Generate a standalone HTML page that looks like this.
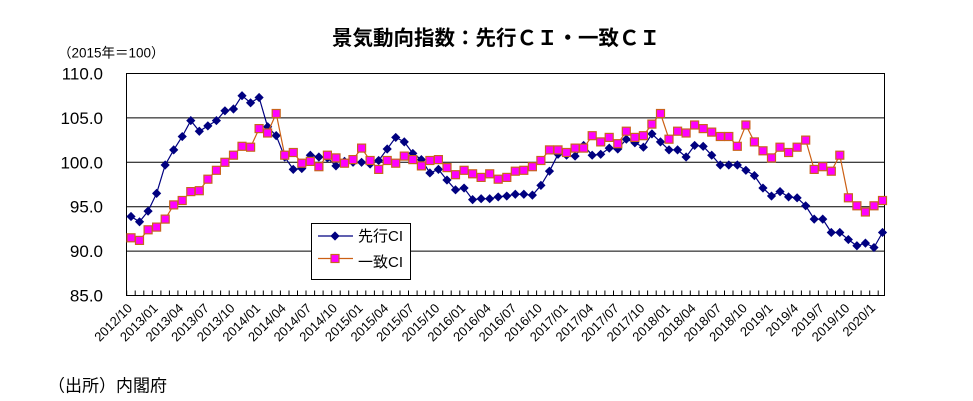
<!DOCTYPE html>
<html><head><meta charset="utf-8">
<style>
html,body{margin:0;padding:0;background:#fff;}
svg{display:block;}
text{font-family:"Liberation Sans","Noto Sans CJK JP",sans-serif;fill:#000;}
</style></head><body>
<svg id="c" width="973" height="401" viewBox="0 0 973 401" xmlns="http://www.w3.org/2000/svg">
<rect width="973" height="401" fill="#fff"/>
<text x="496" y="45" font-size="20.5" font-weight="bold" text-anchor="middle">景気動向指数：先行ＣＩ・一致ＣＩ</text>
<text x="58" y="57.5" font-size="13.5">（2015年＝100）</text>
<g font-size="17" text-anchor="end">
<text x="103" y="79.5">110.0</text>
<text x="103" y="123.9">105.0</text>
<text x="103" y="168.3">100.0</text>
<text x="103" y="212.7">95.0</text>
<text x="103" y="257.1">90.0</text>
<text x="103" y="301.5">85.0</text>
</g>
<g stroke="#000" stroke-width="1" fill="none">
<line x1="126.5" y1="117.9" x2="884.5" y2="117.9"/>
<line x1="126.5" y1="162.3" x2="884.5" y2="162.3"/>
<line x1="126.5" y1="206.7" x2="884.5" y2="206.7"/>
<line x1="126.5" y1="251.1" x2="884.5" y2="251.1"/>
<rect x="126.5" y="73.5" width="758" height="222"/>
</g>
<g id="ticks" stroke="#000" stroke-width="1"></g>
<g id="data"></g>
<rect x="311.5" y="223.5" width="99" height="56" fill="#fff" stroke="#000" stroke-width="1"/>
<line x1="318" y1="236" x2="353" y2="236" stroke="#000080" stroke-width="1.2"/>
<polygon points="335,231.4 339.6,236 335,240.6 330.4,236" fill="#000080"/>
<text x="358" y="241" font-size="15">先行CI</text>
<line x1="318" y1="258.5" x2="353" y2="258.5" stroke="#cc6014" stroke-width="1.2"/>
<rect x="331" y="254.5" width="8" height="8" fill="#ff00ff" stroke="#c8641e" stroke-width="1.2"/>
<text x="358" y="267" font-size="15">一致CI</text>
<g font-size="13" text-anchor="end">
<text transform="translate(133,309) rotate(-45)">2012/10</text>
<text transform="translate(158.6,309) rotate(-45)">2013/01</text>
<text transform="translate(184.2,309) rotate(-45)">2013/04</text>
<text transform="translate(209.9,309) rotate(-45)">2013/07</text>
<text transform="translate(235.5,309) rotate(-45)">2013/10</text>
<text transform="translate(261.1,309) rotate(-45)">2014/01</text>
<text transform="translate(286.7,309) rotate(-45)">2014/04</text>
<text transform="translate(312.3,309) rotate(-45)">2014/07</text>
<text transform="translate(338,309) rotate(-45)">2014/10</text>
<text transform="translate(363.6,309) rotate(-45)">2015/01</text>
<text transform="translate(389.2,309) rotate(-45)">2015/04</text>
<text transform="translate(414.8,309) rotate(-45)">2015/07</text>
<text transform="translate(440.4,309) rotate(-45)">2015/10</text>
<text transform="translate(466.1,309) rotate(-45)">2016/01</text>
<text transform="translate(491.7,309) rotate(-45)">2016/04</text>
<text transform="translate(517.3,309) rotate(-45)">2016/07</text>
<text transform="translate(542.9,309) rotate(-45)">2016/10</text>
<text transform="translate(568.5,309) rotate(-45)">2017/01</text>
<text transform="translate(594.2,309) rotate(-45)">2017/04</text>
<text transform="translate(619.8,309) rotate(-45)">2017/07</text>
<text transform="translate(645.4,309) rotate(-45)">2017/10</text>
<text transform="translate(671,309) rotate(-45)">2018/01</text>
<text transform="translate(696.6,309) rotate(-45)">2018/04</text>
<text transform="translate(722.3,309) rotate(-45)">2018/07</text>
<text transform="translate(747.9,309) rotate(-45)">2018/10</text>
<text transform="translate(773.5,309) rotate(-45)">2019/1</text>
<text transform="translate(799.1,309) rotate(-45)">2019/4</text>
<text transform="translate(824.7,309) rotate(-45)">2019/7</text>
<text transform="translate(850.4,309) rotate(-45)">2019/10</text>
<text transform="translate(876,309) rotate(-45)">2020/1</text>
</g>
<text x="48" y="391.5" font-size="17">（出所）内閣府</text>
</svg>
<script>
(function(){
var L=[93.9,93.3,94.5,96.5,99.7,101.4,102.9,104.7,103.5,104.1,104.7,105.8,106.0,107.5,106.7,107.3,104.0,103.0,100.6,99.2,99.3,100.8,100.6,100.5,99.6,100.1,100.0,100.0,99.8,100.2,101.5,102.8,102.3,101.0,100.3,98.8,99.2,98.0,96.9,97.1,95.8,95.9,95.9,96.1,96.2,96.4,96.4,96.3,97.4,99.0,100.9,100.8,100.7,101.9,100.8,100.9,101.6,101.5,102.6,102.2,101.7,103.2,102.3,101.4,101.4,100.6,101.9,101.8,100.8,99.7,99.7,99.7,99.1,98.5,97.1,96.2,96.7,96.1,96.0,95.1,93.6,93.6,92.1,92.1,91.3,90.6,90.9,90.4,92.1];
var C=[91.5,91.2,92.4,92.7,93.6,95.2,95.7,96.7,96.8,98.1,99.1,100.0,100.8,101.8,101.7,103.8,103.3,105.5,100.8,101.1,99.9,100.1,99.5,100.8,100.5,99.9,100.3,101.6,100.2,99.2,100.2,99.9,100.7,100.3,99.6,100.2,100.3,99.4,98.6,99.1,98.7,98.3,98.7,98.1,98.3,99.0,99.1,99.5,100.2,101.4,101.4,101.1,101.6,101.6,103.0,102.3,102.8,102.1,103.5,102.8,103.0,104.3,105.5,102.6,103.5,103.3,104.2,103.8,103.4,102.9,102.9,101.8,104.2,102.3,101.3,100.5,101.7,101.1,101.7,102.5,99.2,99.5,99.0,100.8,96.0,95.1,94.4,95.1,95.7];
var ns="http://www.w3.org/2000/svg";
function X(i){return 131+8.54*i;}
function Y(v){return 73.5+(110-v)*8.88;}
function el(p,n,a){var e=document.createElementNS(ns,n);for(var k in a)e.setAttribute(k,a[k]);p.appendChild(e);return e;}
var t=document.getElementById('ticks');
for(var k=0;k<=88;k++){var x=(126.7+8.54*k).toFixed(1);el(t,'line',{x1:x,y1:290.5,x2:x,y2:295.5});}
var g=document.getElementById('data');
el(g,'polyline',{points:L.map(function(v,i){return X(i).toFixed(1)+','+Y(v).toFixed(1);}).join(' '),fill:'none',stroke:'#000080','stroke-width':1.2});
L.forEach(function(v,i){var x=X(i),y=Y(v),r=4.6;el(g,'polygon',{points:x+','+(y-r)+' '+(x+r)+','+y+' '+x+','+(y+r)+' '+(x-r)+','+y,fill:'#000080'});});
el(g,'polyline',{points:C.map(function(v,i){return X(i).toFixed(1)+','+Y(v).toFixed(1);}).join(' '),fill:'none',stroke:'#cc6014','stroke-width':1.2});
C.forEach(function(v,i){var x=X(i),y=Y(v);el(g,'rect',{x:(x-4).toFixed(1),y:(y-4).toFixed(1),width:8,height:8,fill:'#ff00ff',stroke:'#c8641e','stroke-width':1.2});});
})();
</script>
</body></html>
